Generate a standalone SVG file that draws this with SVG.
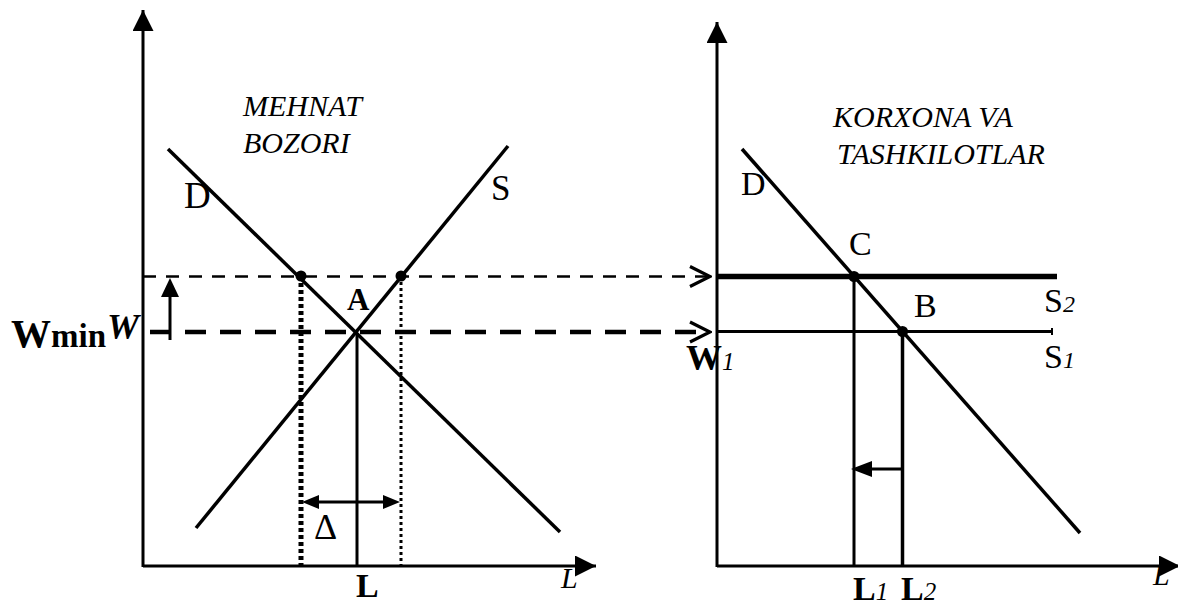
<svg xmlns="http://www.w3.org/2000/svg" width="1178" height="605" viewBox="0 0 1178 605">
<defs>
<style>
.ax{stroke:#000;stroke-width:3;fill:none}
.ln{stroke:#000;stroke-width:3.5;fill:none}
.d1{stroke:#000;stroke-width:2.5;stroke-dasharray:13 10;fill:none}
.d2{stroke:#000;stroke-width:4.5;stroke-dasharray:21 14;fill:none}
.lb{font-family:"Liberation Serif",serif;fill:#000}
.it{font-family:"Liberation Serif",serif;font-style:italic;fill:#000}
</style>
<marker id="ax" viewBox="0 0 10 10" refX="10" refY="5" markerWidth="7" markerHeight="7" orient="auto"><path d="M0,0L10,5L0,10z"/></marker>
<marker id="oa" viewBox="0 0 12 12" refX="11" refY="6" markerWidth="24" markerHeight="24" markerUnits="userSpaceOnUse" orient="auto"><path d="M1,1L11,6L1,11" fill="none" stroke="#000" stroke-width="1.6"/></marker>
</defs>
<rect width="1178" height="605" fill="#fff"/>
<g id="connectors">
<line class="ax" x1="143" y1="567" x2="143" y2="10" marker-end="url(#ax)"/>
<line class="ax" x1="143" y1="566" x2="596" y2="566" marker-end="url(#ax)"/>
<line class="ax" x1="717" y1="567" x2="717" y2="22" marker-end="url(#ax)"/>
<line class="ax" x1="717" y1="566" x2="1180" y2="566" marker-end="url(#ax)"/>
<line class="ln" x1="168" y1="149" x2="560" y2="532"/>
<line class="ln" x1="196" y1="528" x2="508" y2="146"/>
<line class="d1" x1="143" y1="276.5" x2="710" y2="276.5" marker-end="url(#oa)"/>
<line class="d2" x1="150" y1="332" x2="710" y2="332" marker-end="url(#oa)"/>
<line x1="301" y1="276" x2="301" y2="566" stroke="#000" stroke-width="5" stroke-dasharray="4 3"/>
<line x1="401" y1="276" x2="401" y2="566" stroke="#000" stroke-width="3" stroke-dasharray="3 3"/>
<line class="ax" x1="357" y1="333" x2="357" y2="566"/>
<line x1="312" y1="502" x2="390" y2="502" stroke="#000" stroke-width="3"/>
<path d="M302,502L319,495L319,509z"/>
<path d="M400,502L383,495L383,509z"/>
<line x1="170" y1="340" x2="170" y2="292" stroke="#000" stroke-width="3"/>
<path d="M170,278L161,297L179,297z"/>
<line class="ln" x1="742" y1="149" x2="1080" y2="533"/>
<line x1="717" y1="276.5" x2="1057" y2="276.5" stroke="#000" stroke-width="5.5"/>
<line x1="717" y1="331.5" x2="1052" y2="331.5" stroke="#000" stroke-width="3"/>
<line x1="1052" y1="328" x2="1052" y2="335" stroke="#000" stroke-width="2"/>
<line class="ax" x1="854" y1="276" x2="854" y2="566"/>
<line x1="902.5" y1="331" x2="902.5" y2="566" stroke="#000" stroke-width="3.5"/>
<line x1="902" y1="469" x2="864" y2="469" stroke="#000" stroke-width="3"/>
<path d="M851,469L872,461L872,477z"/>
</g>
<g id="points">
<circle cx="301" cy="276" r="5.5"/>
<circle cx="401" cy="276" r="5.5"/>
<circle cx="854" cy="276.5" r="5.5"/>
<circle cx="902.5" cy="331.5" r="5.5"/>
</g>
<g id="labels-left">
<text class="it" x="243" y="116" font-size="30">MEHNAT</text>
<text class="it" x="243" y="153" font-size="30">BOZORI</text>
<text class="lb" x="184" y="208" font-size="37">D</text>
<text class="lb" x="491" y="200" font-size="35">S</text>
<text class="lb" x="347" y="310" font-size="31" font-weight="bold">A</text>
<text class="lb" x="11" y="347" font-size="40" font-weight="bold">W<tspan font-size="33">min</tspan></text>
<text class="lb" x="107" y="339" font-size="36" font-weight="bold" font-style="italic">W</text>
<text class="lb" x="314" y="539" font-size="36">Δ</text>
<text class="lb" x="356" y="597" font-size="34" font-weight="bold">L</text>
<text class="it" x="561" y="588" font-size="30">L</text>
</g>
<g id="labels-right">
<text class="it" x="833" y="127" font-size="30">KORXONA VA</text>
<text class="it" x="837" y="164" font-size="30">TASHKILOTLAR</text>
<text class="lb" x="741" y="195" font-size="34">D</text>
<text class="lb" x="849" y="255" font-size="34">C</text>
<text class="lb" x="914" y="317" font-size="34">B</text>
<text class="lb" x="1044" y="312" font-size="34">S<tspan class="it" font-size="24">2</tspan></text>
<text class="lb" x="1044" y="368" font-size="34">S<tspan class="it" font-size="24">1</tspan></text>
<text class="lb" x="686" y="370" font-size="36" font-weight="bold">W<tspan class="it" font-size="25" font-weight="normal">1</tspan></text>
<text class="lb" x="853" y="600" font-size="34" font-weight="bold">L<tspan class="it" font-size="25" font-weight="normal">1</tspan></text>
<text class="lb" x="901" y="600" font-size="34" font-weight="bold">L<tspan class="it" font-size="25" font-weight="normal">2</tspan></text>
<text class="it" x="1153" y="585" font-size="30">L</text>
</g>
</svg>
